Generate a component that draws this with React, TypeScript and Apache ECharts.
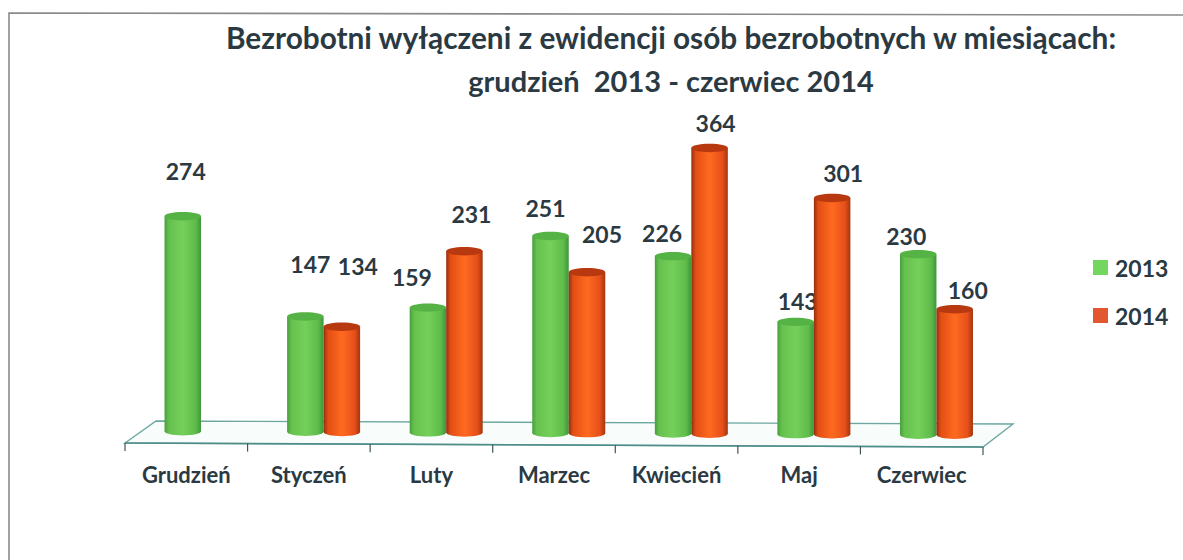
import React, { useEffect, useRef } from "react";
import * as echarts from "echarts";

const months = ["Grudzień", "Styczeń", "Luty", "Marzec", "Kwiecień", "Maj", "Czerwiec"];
const values2013 = [274, 147, 159, 251, 226, 143, 230];
const values2014 = [null, 134, 231, 205, 364, 301, 160];
const titleLine1 = "Bezrobotni wyłączeni z ewidencji osób bezrobotnych w miesiącach:";
const titleLine2 = "grudzień  2013 - czerwiec 2014";

// Hand-placed label nudges (dx from cylinder centre, dy from cylinder top)
const nudge2013 = [[3, -41], [5, -48], [-16, -27], [-5, -24], [-11, -19], [2, -17], [-12, -14]];
const nudge2014 = [[0, 0], [16, -57], [7, -33], [15, -34], [6, -21], [11, -21], [13, -15]];

const FONT = "Lato";
const TEXT = "#2b3a42";
const GREEN = ["#469f3c", "#66c04e", "#74d05a", "#60bc4a", "#3c963c"];
const ORANGE = ["#932f10", "#e24e14", "#ff6a20", "#e6501a", "#a4350f"];
const L = 125, W = 858, TILT = 4 / 858;

function cylinder(colors: string[], topColor: string, xOff: number, nudges: number[][]) {
  return (params: any, api: any) => {
    const cat = api.value(0);
    const val = api.value(1);
    if (val == null || isNaN(val)) return null;
    const c0 = api.coord([cat, 0]);
    const c1 = api.coord([cat, val]);
    const w = 36.5;
    const cx = c0[0] + xOff;
    const dy = (cx - L) * TILT;
    const yb = c0[1] + dy;
    const yt = c1[1] + dy;
    const ry = 4.2;
    const fill = new echarts.graphic.LinearGradient(0, 0, 1, 0,
      colors.map((color, i) => ({ offset: [0, 0.12, 0.5, 0.85, 1][i], color })));
    const n = nudges[cat];
    return {
      type: "group",
      children: [
        { type: "ellipse", shape: { cx, cy: yb, rx: w / 2, ry }, style: { fill } },
        { type: "rect", shape: { x: cx - w / 2, y: yt, width: w, height: yb - yt }, style: { fill } },
        { type: "ellipse", shape: { cx, cy: yt, rx: w / 2, ry }, style: { fill: topColor } },
        {
          type: "text",
          x: cx + n[0],
          y: yt - 4 + n[1],
          style: {
            text: String(val),
            fill: TEXT,
            font: `bold 23px ${FONT}`,
            textAlign: "center",
            textVerticalAlign: "middle",
          },
        },
      ],
    };
  };
}

export default function App() {
  const ref = useRef<HTMLDivElement>(null);
  useEffect(() => {
    document.body.style.margin = "0";
    const chart = echarts.init(ref.current!, null, { renderer: "svg" });
    const y = (x: number, base: number) => base + (x - L) * TILT;
    const axisStroke = { stroke: "#4f8d88", lineWidth: 1.6 };
    const ticks = months.concat([""]).map((_, i) => {
      const x = L + (W * i) / months.length;
      return {
        type: "line",
        shape: { x1: x, y1: y(x, 443), x2: x, y2: y(x, 451) },
        style: { stroke: "#3f5654", lineWidth: 1.2 },
        z: 1,
      };
    });
    chart.setOption({
      animation: false,
      backgroundColor: "#ffffff",
      grid: { left: L, width: W, top: 117, height: 314 },
      title: [
        {
          text: titleLine1,
          left: 666, top: 17, textAlign: "center",
          textStyle: { fontFamily: FONT, fontWeight: "bold", fontSize: 29.8, color: TEXT },
        },
        {
          text: titleLine2,
          left: 666, top: 61, textAlign: "center",
          textStyle: { fontFamily: FONT, fontWeight: "bold", fontSize: 29, color: TEXT },
        },
      ],
      legend: {
        left: 1088, top: 251, orient: "vertical", itemWidth: 15, itemHeight: 15, itemGap: 25,
        icon: "rect",
        textStyle: { fontFamily: FONT, fontWeight: "bold", fontSize: 23, color: TEXT, padding: [0, 0, 0, 2] },
        data: [
          { name: "2013", itemStyle: { color: "#72d65f" } },
          { name: "2014", itemStyle: { color: "#e2572f" } },
        ],
      },
      xAxis: {
        type: "category",
        data: months,
        axisLine: { show: false },
        axisTick: { show: false },
        axisLabel: { margin: 32, fontFamily: FONT, fontWeight: "bold", fontSize: 22, color: TEXT, interval: 0 },
      },
      yAxis: { type: "value", min: 0, max: 400, interval: 100, show: false, splitLine: { show: false } },
      graphic: [
        {
          type: "polyline",
          shape: { points: [[9, 560], [9, 13], [1183, 15]] },
          style: { stroke: "#8a8a8a", lineWidth: 1.6, fill: "none" },
          z: 0,
        },
        {
          type: "polygon",
          shape: { points: [[125, 443], [156, 421], [1013, 424], [983, 447]] },
          style: { fill: "#f8fdfc", stroke: "#6ca7a0", lineWidth: 1.4 },
          z: 0,
        },
        {
          type: "line",
          shape: { x1: 125, y1: 443, x2: 983, y2: 447 },
          style: axisStroke,
          z: 1,
        },
        ...ticks,
      ],
      series: [
        {
          name: "2013",
          type: "custom",
          encode: { x: 0, y: 1 },
          itemStyle: { color: "#72d65f" },
          data: values2013.map((v, i) => [i, v]),
          renderItem: cylinder(GREEN, "#55b244", -3.5, nudge2013),
        },
        {
          name: "2014",
          type: "custom",
          encode: { x: 0, y: 1 },
          itemStyle: { color: "#e2572f" },
          data: values2014.map((v, i) => [i, v]),
          renderItem: cylinder(ORANGE, "#b8390f", 33, nudge2014),
        },
      ],
    });
    return () => chart.dispose();
  }, []);
  return <div ref={ref} style={{ width: 1183, height: 560 }} />;
}
